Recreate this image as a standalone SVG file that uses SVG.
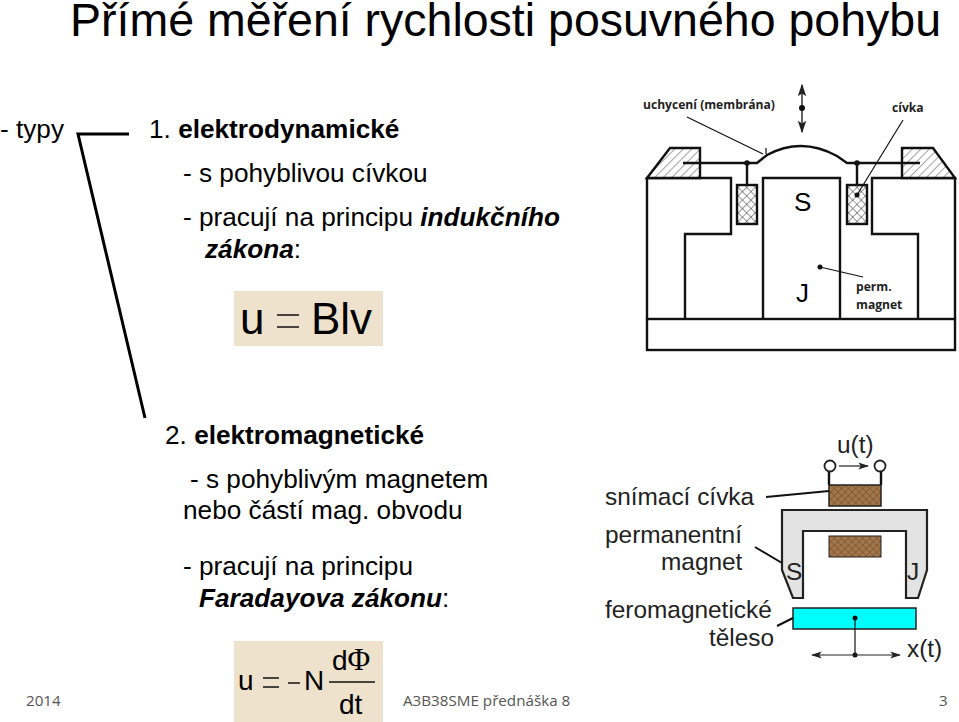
<svg xmlns="http://www.w3.org/2000/svg" width="959" height="722" viewBox="0 0 959 722">
<style>
text{font-family:"Liberation Sans",Arial,sans-serif;fill:#000}
.b{font-size:26.2px}
.f{font-family:"Open Sans","Noto Sans",sans-serif;font-size:15.2px;fill:#555}
.l{font-family:"Open Sans","Noto Sans",sans-serif;font-size:12.1px;font-weight:700;fill:#222}
.d{font-size:24.4px;fill:#222}
.eq{fill:#eee2cc}
.o{fill:none;stroke:#111;stroke-width:2.4}
.t{fill:none;stroke:#111;stroke-width:1.2}
.m{stroke:#000;stroke-width:3;fill:none}
</style>
<defs>
<pattern id="h1" width="6" height="6" patternUnits="userSpaceOnUse" patternTransform="rotate(45)"><rect width="6" height="6" fill="#fff"/><line x1="0" y1="0" x2="0" y2="6" stroke="#444" stroke-width="1"/></pattern>
<pattern id="x1" width="6" height="6" patternUnits="userSpaceOnUse" patternTransform="rotate(45)"><rect width="6" height="6" fill="#fff"/><path d="M0 0V6M0 0H6" stroke="#333" stroke-width="1"/></pattern>
<pattern id="x2" width="5" height="5" patternUnits="userSpaceOnUse" patternTransform="rotate(45)"><rect width="5" height="5" fill="#a3764c"/><path d="M0 0V5M0 0H5" stroke="#5d3d20" stroke-width=".8"/></pattern>
<marker id="a" markerWidth="9" markerHeight="7" refX="8" refY="3" orient="auto-start-reverse"><path d="M0 0L9 3L0 6L2 3Z" fill="#222"/></marker>
</defs>
<rect width="959" height="722" fill="#fff"/>

<g id="title"><text x="70" y="36" font-size="46.5">Přímé měření rychlosti posuvného pohybu</text></g>

<g id="connectors">
<path class="m" d="M129 134H78L145 418"/>
</g>

<g id="text-left">
<text class="b" x="0" y="138">- typy</text>
<text class="b" x="149" y="138">1. <tspan font-weight="700">elektrodynamické</tspan></text>
<text class="b" x="183" y="182">- s pohyblivou cívkou</text>
<text class="b" x="183" y="226">- pracují na principu <tspan font-weight="700" font-style="italic">indukčního</tspan></text>
<text class="b" x="205" y="258"><tspan font-weight="700" font-style="italic">zákona</tspan>:</text>
<text class="b" x="165" y="444">2. <tspan font-weight="700">elektromagnetické</tspan></text>
<text class="b" x="190" y="488">- s pohyblivým magnetem</text>
<text class="b" x="183" y="519">nebo částí mag. obvodu</text>
<text class="b" x="183" y="575">- pracují na principu</text>
<text class="b" x="199" y="607"><tspan font-weight="700" font-style="italic">Faradayova zákonu</tspan>:</text>
</g>

<g id="eq1">
<rect class="eq" x="234" y="291" width="149" height="55"/>
<text x="240" y="334" font-size="44">u</text>
<path d="M277 315H299M277 327H299" stroke="#111" stroke-width="1.5"/>
<text x="311" y="334" font-size="44">Blv</text>
</g>

<g id="eq2">
<rect class="eq" x="234" y="641" width="149" height="81"/>
<text x="238" y="690" font-size="28">u</text>
<path d="M263 678H279M263 687H279" stroke="#111" stroke-width="1.5"/>
<path d="M288 683H300" stroke="#111" stroke-width="1.5"/>
<text x="304" y="690" font-size="28">N</text>
<text x="332" y="670" font-size="28">d<tspan font-family="Liberation Serif" font-size="31">Φ</tspan></text>
<path d="M329 682H375" stroke="#111" stroke-width="1.5"/>
<text x="339" y="714" font-size="28">dt</text>
</g>

<g id="footer">
<text class="f" x="26" y="706">2014</text>
<text class="f" x="403" y="706">A3B38SME přednáška 8</text>
<text class="f" x="939" y="706">3</text>
</g>

<g id="figure-1">
<rect class="o" x="647" y="319" width="308" height="31"/>
<path class="o" d="M647 319V178H731V234H685V319"/>
<path class="o" d="M763 319V178H840V319"/>
<path class="o" d="M955 319V178H872V234H918V319"/>
<path d="M647 178L670 148H700V178Z" fill="url(#h1)" stroke="#111" stroke-width="2.4"/>
<path d="M902 178V148H933L955 178Z" fill="url(#h1)" stroke="#111" stroke-width="2.4"/>
<path class="o" d="M683 163H757L767 155C778 149 788 146 801 146C815 146 826 150 837 156L847 163H920"/>
<path class="o" d="M747 163V185M857 163V185"/>
<circle cx="747" cy="163" r="2.8" fill="#111"/><circle cx="857" cy="163" r="2.8" fill="#111"/>
<rect x="737" y="185" width="20" height="39" fill="url(#x1)" stroke="#111" stroke-width="2.4"/>
<rect x="847" y="185" width="20" height="39" fill="url(#x1)" stroke="#111" stroke-width="2.4"/>
<path d="M802 85V132" stroke="#222" stroke-width="1.4" marker-start="url(#a)" marker-end="url(#a)"/>
<circle cx="802" cy="108" r="3" fill="#111"/>
<path class="t" d="M687 117L763 154M766 148V154"/>
<path class="t" d="M903 120L857 195"/>
<circle cx="857" cy="195" r="2.5" fill="#111"/>
<circle cx="820" cy="267" r="2.5" fill="#111"/>
<path class="t" d="M820 267L863 277"/>
<text x="794" y="211" font-size="26" fill="#333">S</text>
<text x="796" y="302" font-size="26" fill="#333">J</text>
<text class="l" x="643" y="109">uchycení (membrána)</text>
<text class="l" x="892" y="112">cívka</text>
<text class="l" x="856" y="291">perm.</text>
<text class="l" x="856" y="309">magnet</text>
</g>

<g id="figure-2">
<path class="o" d="M829 471V485M881 471V485"/>
<circle cx="830" cy="466" r="5.5" fill="#fff" stroke="#222" stroke-width="1.8"/>
<circle cx="880" cy="466" r="5.5" fill="#fff" stroke="#222" stroke-width="1.8"/>
<path d="M839 466H868" stroke="#222" stroke-width="1.2" marker-end="url(#a)"/>
<rect x="829" y="485" width="52" height="21" fill="url(#x2)" stroke="#222" stroke-width="1.5"/>
<path d="M782 510H927V570L918 598H906V531H803V598H793L782 570Z" fill="#e3e3e3" stroke="#222" stroke-width="2.2"/>
<rect x="829" y="536" width="52" height="21" fill="url(#x2)" stroke="#222" stroke-width="1"/>
<rect x="793" y="608" width="123" height="21" fill="#0ff" stroke="#222" stroke-width="1.5"/>
<circle cx="855" cy="618" r="2.5" fill="#111"/>
<path class="t" d="M855 618V655"/>
<circle cx="855" cy="655" r="2.5" fill="#111"/>
<path d="M812 655H900" stroke="#222" stroke-width="1.2" marker-start="url(#a)" marker-end="url(#a)"/>
<path class="o" d="M766 497L829 491M755 547L782 563M777 626L793 618" style="stroke-width:2"/>
<text class="d" x="837" y="453">u(t)</text>
<text class="d" x="605" y="505">snímací cívka</text>
<text class="d" x="605" y="543">permanentní</text>
<text class="d" x="661" y="570">magnet</text>
<text class="d" x="605" y="618">feromagnetické</text>
<text class="d" x="709" y="646">těleso</text>
<text class="d" x="907" y="657">x(t)</text>
<text class="d" x="786" y="580">S</text>
<text class="d" x="907" y="580">J</text>
</g>
</svg>
